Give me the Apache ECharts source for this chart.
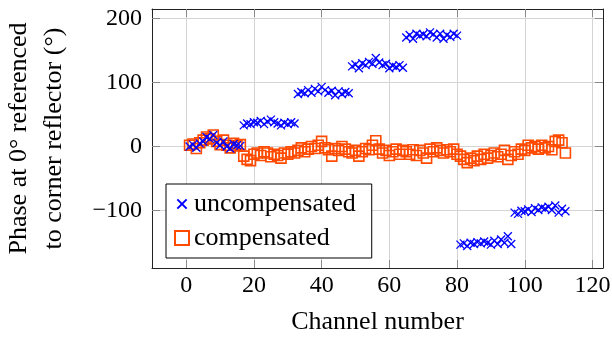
<!DOCTYPE html>
<html>
<head>
<meta charset="utf-8">
<script src="https://cdn.jsdelivr.net/npm/echarts@6/dist/echarts.min.js"></script>
<style>
html,body{margin:0;padding:0;background:#fff;}
#chart{width:612px;height:338px;}
</style>
</head>
<body>
<div id="chart"></div>
<script>
// Channel numbers 1..112
const channels = [];
for (let c = 1; c <= 112; c++) channels.push(c);

// Phase (deg), uncompensated
const uncompensated = [
  0, 3, -2, 5, 8, 15, 12, 18, 6, 2, 8, 0, -3, 4, 2, 1,
  33, 36, 35, 38, 37, 40, 35, 39, 42, 38, 36, 33, 37, 35, 38, 36,
  82, 85, 83, 88, 84, 90, 86, 93, 88, 84, 87, 80, 86, 82, 85, 83,
  125, 128, 122, 130, 127, 132, 129, 138, 131, 127, 129, 122, 126, 124, 127, 123,
  170, 174, 168, 176, 173, 175, 172, 178, 175, 170, 176, 168, 174, 171, 176, 173,
  -153, -151, -155, -150, -152, -149, -151, -148, -150, -153, -147, -152, -145, -150, -140, -152,
  -103, -105, -100, -101, -98, -102, -96, -99, -95, -97, -94, -99, -92, -103, -97, -101
];

// Phase (deg), compensated
const compensated = [
  2, 4, -3, 6, 10, 15, 12, 18, 8, 3, 10, 2, -2, 5, 1, 3,
  -15, -20, -22, -12, -10, -14, -8, -10, -16, -12, -14, -18, -10, -12, -8, -10,
  -6, -2, -8, -4, 0, -3, 2, 8, -2, -5, -15, -3, -6, 0, -4, -8,
  -10, -6, -15, -8, -3, -5, 2, 9, -4, -10, -6, -14, -8, -4, -12, -6,
  -8, -12, -5, -14, -6, -10, -18, -4, -8, -2, -6, -10, -5, -8, -4, -12,
  -15, -20, -25, -18, -22, -15, -20, -12, -18, -14, -10, -16, -12, -6, -20, -14,
  -8, -12, -4, -6, 2, -2, 0, -4, 2, -2, 0, -5, 8, 10, 6, -10
];

const xTicks = [0, 20, 40, 60, 80, 100, 120];
const yTicks = [-100, 0, 100, 200];
const seriesNames = ['uncompensated', 'compensated'];

const FONT = '"Liberation Serif", "DejaVu Serif", serif';
const X_MIN = -10.1, X_MAX = 123.1, Y_MIN = -189.4, Y_MAX = 214.5;
const BLUE = '#0000ff', ORANGE = '#ff4a00';
const CROSS = 'path://M0,0L10,10M10,0L0,10';
const CROSS_LEGEND = 'path://M-2.5,-2.5M0,0L10,10M10,0L0,10M12.5,12.5';

const chart = echarts.init(document.getElementById('chart'), null, {renderer: 'canvas'});

const tickStyle = {show: true, inside: true, length: 8, lineStyle: {color: '#8a8a8a', width: 1}};
const axisLineStyle = {show: true, onZero: false, lineStyle: {color: '#222', width: 1}};

chart.setOption({
  animation: false,
  backgroundColor: '#fff',
  grid: {left: 152, right: 9, top: 9, bottom: 70, containLabel: false, outerBoundsMode: 'none'},
  xAxis: [{
    type: 'value', min: X_MIN, max: X_MAX, position: 'bottom',
    axisLine: axisLineStyle,
    axisTick: Object.assign({customValues: xTicks}, tickStyle),
    axisLabel: {customValues: xTicks, margin: 6, fontFamily: FONT, fontSize: 24, color: '#000'},
    splitLine: {show: true, lineStyle: {color: '#d4d4d4', width: 1}},
    name: 'Channel number', nameLocation: 'middle', nameGap: 41,
    nameTextStyle: {fontFamily: FONT, fontSize: 26, color: '#000'}
  }, {
    type: 'value', min: X_MIN, max: X_MAX, position: 'top',
    axisLine: axisLineStyle,
    axisTick: Object.assign({customValues: xTicks}, tickStyle),
    axisLabel: {show: false},
    splitLine: {show: false}
  }],
  yAxis: [{
    type: 'value', min: Y_MIN, max: Y_MAX, position: 'left',
    axisLine: axisLineStyle,
    axisTick: Object.assign({customValues: yTicks}, tickStyle),
    axisLabel: {customValues: yTicks, margin: 10, fontFamily: FONT, fontSize: 24, color: '#000',
      formatter: v => (v < 0 ? '\u2212' + Math.abs(v) : String(v))},
    splitLine: {show: true, lineStyle: {color: '#d4d4d4', width: 1}},
    name: 'Phase at 0\u00b0 referenced\nto corner reflector (\u00b0)',
    nameLocation: 'middle', nameGap: 80, nameRotate: 90,
    nameTextStyle: {fontFamily: FONT, fontSize: 26, color: '#000', lineHeight: 35, align: 'center'}
  }, {
    type: 'value', min: Y_MIN, max: Y_MAX, position: 'right',
    axisLine: axisLineStyle,
    axisTick: Object.assign({customValues: yTicks}, tickStyle),
    axisLabel: {show: false},
    splitLine: {show: false}
  }],
  legend: {
    orient: 'vertical', left: 166, top: 184,
    backgroundColor: '#fff', borderColor: '#000', borderWidth: 1, borderRadius: 0,
    padding: [7, 16, 7, 8], itemGap: 8, itemWidth: 14, itemHeight: 14,
    textStyle: {fontFamily: FONT, fontSize: 26, color: '#000'},
    data: [
      {name: seriesNames[0], icon: CROSS_LEGEND},
      {name: seriesNames[1], icon: 'rect'}
    ]
  },
  series: [{
    name: seriesNames[1], type: 'scatter', xAxisIndex: 0, yAxisIndex: 0,
    symbol: 'rect', symbolSize: 10, z: 2,
    itemStyle: {color: 'rgba(255,255,255,0)', borderColor: ORANGE, borderWidth: 1.6, opacity: 1},
    data: channels.map((c, i) => [c, compensated[i]])
  }, {
    name: seriesNames[0], type: 'scatter', xAxisIndex: 0, yAxisIndex: 0,
    symbol: CROSS, symbolSize: 8, z: 3,
    itemStyle: {color: 'rgba(255,255,255,0)', borderColor: BLUE, borderWidth: 1.3, opacity: 1},
    data: channels.map((c, i) => [c, uncompensated[i]])
  }]
});
</script>
</body>
</html>
